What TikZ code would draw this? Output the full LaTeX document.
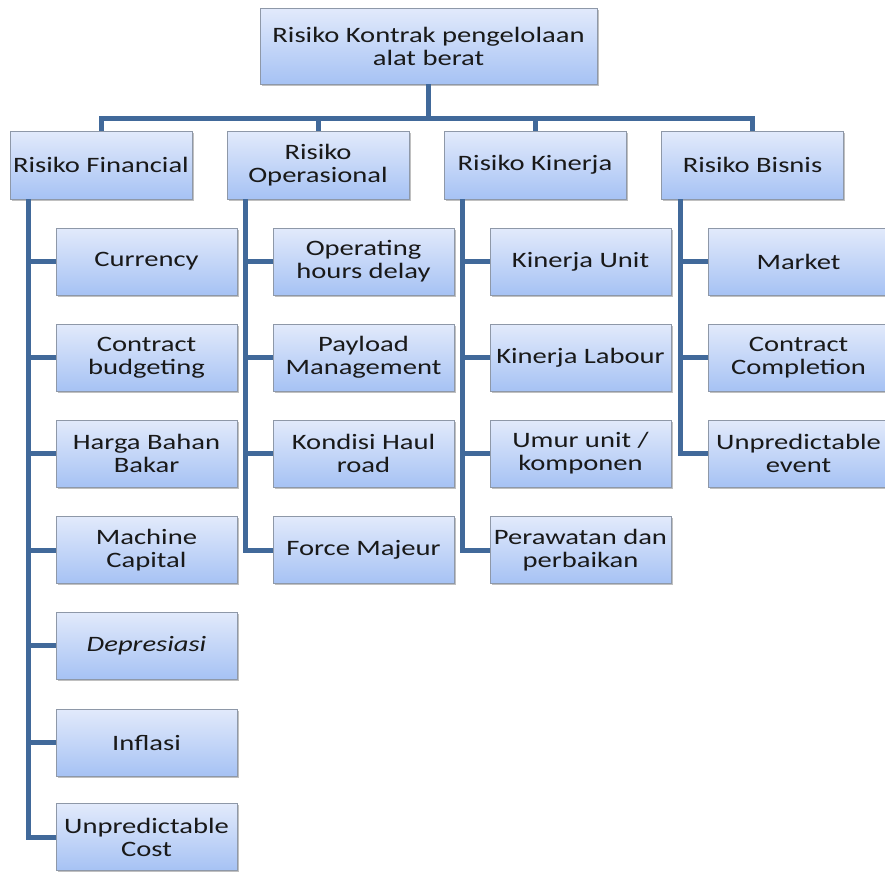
\documentclass[tikz,border=0pt]{standalone}
\usepackage{fontspec}
\setmainfont{Carlito}[FakeStretch=1.3]
\usetikzlibrary{shadows}
\definecolor{linec}{HTML}{41699A}
\definecolor{topc}{HTML}{E2EAFB}
\definecolor{botc}{HTML}{A6C2F4}
\definecolor{edgec}{HTML}{8E98A8}
\tikzset{
  box/.style={draw=edgec, line width=0.8pt, top color=topc, bottom color=botc,
    drop shadow={shadow xshift=1.5pt, shadow yshift=-1.8pt, fill=black!45, opacity=0.55},
    align=center, font=\fontsize{22}{23}\selectfont, text=black!90,
    inner sep=1pt},
  l1/.style={box, minimum width=182pt, minimum height=68pt},
  ch/.style={box, minimum width=181pt, minimum height=67pt},
  conn/.style={draw=linec, line width=5pt}
}
\begin{document}
\begin{tikzpicture}[x=1pt,y=-1pt]
\useasboundingbox (0,0) rectangle (885,871);
\begin{scope}
\clip (0,0) rectangle (885,871);
% top
\node[box, minimum width=337pt, minimum height=76pt] (top) at (428.5,46) {Risiko Kontrak pengelolaan\\alat berat};
% level 1
\node[l1] (fin) at (101,165) {Risiko Financial};
\node[l1] (op) at (318,165) {Risiko\\Operasional};
\node[l1] (kin) at (535,165) {Risiko Kinerja};
\node[l1] (bis) at (752.5,165) {Risiko Bisnis};
\coordinate (bus) at (0,118);
\draw[conn] (top.south) -- (top.south |- bus);
\draw[conn] (fin.north) -- (fin.north |- bus) -- (bis.north |- bus) -- (bis.north);
\draw[conn] (op.north) -- (op.north |- bus);
\draw[conn] (kin.north) -- (kin.north |- bus);
% Financial children
\node[ch] (f1) at (146.5,261.5) {Currency};
\node[ch] (f2) at (146.5,357.5) {Contract\\budgeting};
\node[ch] (f3) at (146.5,453.5) {Harga Bahan\\Bakar};
\node[ch] (f4) at (146.5,550) {Machine\\Capital};
\node[ch] (f5) at (146.5,645.5) {\itshape Depresiasi};
\node[ch] (f6) at (146.5,742.5) {Inflasi};
\node[ch] (f7) at (146.5,837) {Unpredictable\\Cost};
% Operasional children
\node[ch] (o1) at (363.5,261.5) {Operating\\hours delay};
\node[ch] (o2) at (363.5,357.5) {Payload\\Management};
\node[ch] (o3) at (363.5,453.5) {Kondisi Haul\\road};
\node[ch] (o4) at (363.5,550) {Force Majeur};
% Kinerja children
\node[ch] (k1) at (580.5,261.5) {Kinerja Unit};
\node[ch] (k2) at (580.5,357.5) {Kinerja Labour};
\node[ch] (k3) at (580.5,453.5) {Umur unit /\\komponen};
\node[ch] (k4) at (580.5,550) {Perawatan dan\\perbaikan};
% Bisnis children
\node[ch] (b1) at (798.5,261.5) {Market};
\node[ch] (b2) at (798.5,357.5) {Contract\\Completion};
\node[ch] (b3) at (798.5,453.5) {Unpredictable\\event};
% branch connectors
\foreach \c in {f1,f2,f3,f4,f5,f6,f7} \draw[conn] ([xshift=19pt]fin.south west) |- (\c.west);
\foreach \c in {o1,o2,o3,o4} \draw[conn] ([xshift=19pt]op.south west) |- (\c.west);
\foreach \c in {k1,k2,k3,k4} \draw[conn] ([xshift=19pt]kin.south west) |- (\c.west);
\foreach \c in {b1,b2,b3} \draw[conn] ([xshift=19pt]bis.south west) |- (\c.west);
\end{scope}
\end{tikzpicture}
\end{document}
